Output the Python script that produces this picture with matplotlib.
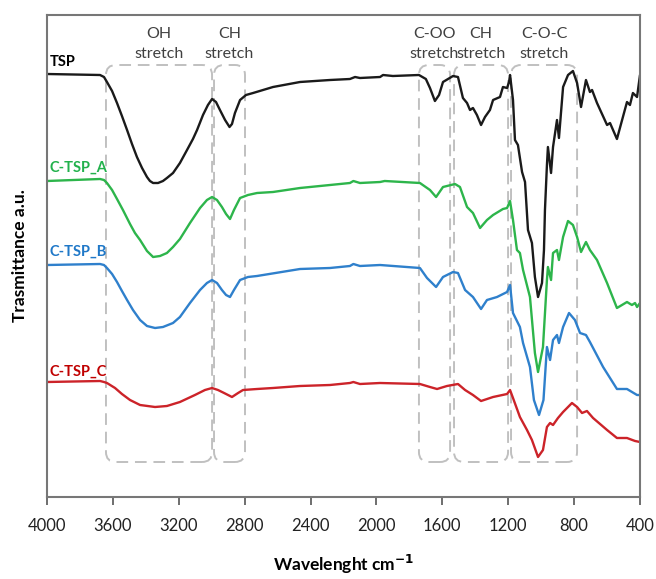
import matplotlib
matplotlib.use("Agg")
import matplotlib.pyplot as plt
from matplotlib.patches import FancyBboxPatch
import numpy as np

plt.rcParams['font.family'] = ['Lato', 'DejaVu Sans']

# ---------------- data ----------------
tsp_wn = [4000, 3678, 3654, 3636, 3605, 3575, 3545, 3514, 3484, 3454, 3423, 3393, 3375, 3356, 3326,
          3296, 3272, 3235, 3193, 3150, 3114, 3089, 3053, 3023, 2998, 2974, 2950, 2919, 2892, 2877,
          2859, 2828, 2792, 2749, 2628, 2464, 2282, 2161, 2130, 2100, 1978, 1960, 1900, 1742, 1700,
          1675, 1645, 1620, 1596, 1535, 1505, 1475, 1450, 1432, 1414, 1390, 1365, 1341, 1311, 1292,
          1250, 1232, 1207, 1195, 1189, 1171, 1159, 1141, 1116, 1098, 1080, 1056, 1038, 1019, 995,
          983, 977, 965, 959, 940, 928, 904, 892, 867, 837, 807, 782, 758, 728, 704, 691, 661, 600,
          582, 540, 479, 461, 443, 418, 400]
tsp_t = [426, 425, 423, 418, 409, 397, 384, 370, 356, 343, 332, 323, 319, 317, 317,
         319, 322, 327, 337, 350, 361, 370, 385, 395, 401, 398, 390, 380, 373, 376,
         387, 400, 405, 407, 413, 418, 420, 421, 423, 422, 423, 425, 424, 425, 421,
         412, 399, 405, 418, 424, 423, 402, 397, 390, 392, 385, 375, 383, 390, 400,
         403, 413, 412, 418, 425, 400, 360, 355, 328, 318, 270, 257, 223, 203, 217,
         250, 290, 335, 353, 327, 353, 380, 362, 413, 425, 429, 417, 393, 420, 408, 410, 397, 375,
         377, 361, 398, 395, 407, 403, 425]

a_wn = [4000, 3678, 3654, 3636, 3605, 3575, 3539, 3496, 3466, 3435, 3393, 3356, 3314, 3272, 3235,
        3193, 3132, 3071, 3029, 2998, 2968, 2938, 2913, 2889, 2865, 2828, 2780, 2725, 2628, 2464,
        2282, 2161, 2140, 2100, 1978, 1950, 1736, 1675, 1638, 1596, 1523, 1493, 1450, 1414, 1371,
        1329, 1292, 1232, 1207, 1189, 1171, 1147, 1129, 1110, 1068, 1038, 1019, 989, 965, 959,
        940, 928, 904, 892, 867, 837, 807, 782, 758, 728, 704, 661, 600, 540, 479, 449, 430, 418, 400]
a_t = [319, 321, 320, 317, 310, 301, 290, 276, 267, 260, 249, 243, 244, 247, 253,
       261, 277, 292, 300, 303, 300, 293, 286, 281, 290, 302, 305, 307, 308, 312,
       315, 317, 319, 317, 318, 319, 317, 310, 303, 313, 316, 313, 293, 287, 272,
       280, 285, 291, 292, 299, 280, 250, 247, 230, 203, 147, 128, 153, 220, 233,
       220, 247, 250, 240, 263, 279, 275, 263, 248, 258, 250, 240, 217, 192, 198, 195, 197, 193, 197]

b_wn = [4000, 3678, 3654, 3636, 3605, 3575, 3545, 3514, 3478, 3435, 3393, 3344, 3296, 3235, 3193,
        3132, 3071, 3029, 2998, 2968, 2938, 2913, 2889, 2865, 2828, 2780, 2725, 2464, 2282, 2161,
        2140, 2100, 1978, 1736, 1693, 1638, 1596, 1535, 1505, 1462, 1414, 1365, 1329, 1268, 1207,
        1189, 1171, 1129, 1110, 1068, 1044, 1013, 986, 965, 946, 928, 904, 892, 867, 831, 795,
        764, 728, 704, 624, 540, 479, 418, 400]
b_t = [235, 236, 235, 232, 226, 218, 209, 200, 190, 180, 174, 172, 173, 177, 183,
       197, 210, 217, 220, 217, 210, 205, 203, 210, 220, 223, 224, 231, 232, 234,
       236, 234, 235, 232, 222, 213, 223, 228, 227, 210, 203, 191, 200, 203, 208,
       215, 187, 173, 157, 133, 100, 85, 100, 153, 140, 160, 165, 157, 173, 187, 180,
       167, 165, 158, 133, 111, 111, 105, 105]

c_wn = [4000, 3678, 3654, 3636, 3587, 3545, 3496, 3435, 3344, 3272, 3193, 3102, 3041, 2998, 2962,
        2925, 2877, 2840, 2810, 2725, 2628, 2464, 2282, 2161, 2140, 2100, 1978, 1736, 1675, 1632,
        1572, 1505, 1462, 1414, 1365, 1292, 1207, 1189, 1171, 1129, 1086, 1056, 1019, 989, 965,
        946, 928, 898, 867, 813, 782, 752, 722, 685, 600, 540, 479, 430, 400]
c_t = [118, 119, 118, 117, 112, 106, 100, 95, 93, 94, 98, 105, 110, 112, 110,
       107, 103, 107, 110, 111, 112, 114, 115, 117, 118, 116, 117, 116, 113, 111,
       114, 116, 110, 105, 99, 103, 106, 110, 102, 83, 70, 60, 43, 50, 73,
       77, 75, 82, 88, 97, 93, 87, 89, 82, 70, 62, 62, 59, 58]

series_names = ["TSP", "C-TSP_A", "C-TSP_B", "C-TSP_C"]
series_colors = ["#1a1a1a", "#2db54b", "#2f80cc", "#cc2329"]
label_colors = ["#000000", "#22b14c", "#1f78c8", "#c00000"]
label_y = [438, 332, 248, 128]

x_ticks = [4000, 3600, 3200, 2800, 2400, 2000, 1600, 1200, 800, 400]

band_names = ["OH\nstretch", "CH\nstretch", "C-OO\nstretch", "CH\nstretch", "C-O-C\nstretch"]
band_lo = [2998, 2798, 1553, 1201, 782]
band_hi = [3642, 2986, 1742, 1529, 1183]
band_bottom, band_top = 38, 435

# ---------------- figure ----------------
fig = plt.figure(figsize=(6.56, 5.79), dpi=100)
ax = fig.add_axes([47/656, 1-497/579, 593/656, 482/579])

for (wn, t), col in zip([(tsp_wn, tsp_t), (a_wn, a_t), (b_wn, b_t), (c_wn, c_t)], series_colors):
    ax.plot(wn, t, color=col, lw=1.7, solid_joinstyle='round', solid_capstyle='round')

ax.set_xlim(4000, 400)
ax.set_ylim(3, 485)

# dashed rounded boxes
px_wn = 3600/593.0   # wavenumber per pixel
px_t = 482/482.0     # T units per pixel
r = 10 * px_wn
for lo, hi, name in zip(band_lo, band_hi, band_names):
    p = FancyBboxPatch((lo, band_bottom), hi - lo, band_top - band_bottom,
                       boxstyle="round,pad=0,rounding_size=%f" % r,
                       mutation_aspect=px_t/px_wn,
                       fill=False, edgecolor="#c0c0c0", lw=1.4,
                       linestyle=(0, (6, 3.5)), zorder=1)
    ax.add_patch(p)
    ax.text((lo+hi)/2, 456, name, ha='center', va='center', fontsize=11.5,
            color='#404040', linespacing=1.5)

for name, col, y in zip(series_names, label_colors, label_y):
    ax.text(3985, y, name, ha='left', va='center', fontsize=10.5,
            fontweight='bold', color=col)

ax.set_xticks(x_ticks)
ax.set_xticklabels([str(v) for v in x_ticks], fontsize=12, color='#222222')
ax.set_yticks([])
ax.tick_params(axis='x', direction='out', length=6, width=1.2, color='#555555', pad=9)

for s in ax.spines.values():
    s.set_color('#777777')
    s.set_linewidth(1.5)

ax.set_xlabel("Wavelenght cm$^{\\mathbf{-1}}$", fontsize=12.5, fontweight='bold', labelpad=14)
ax.set_ylabel("Trasmittance a.u.", fontsize=12.5, fontweight='bold', labelpad=14)

fig.savefig("out.png", dpi=100)
